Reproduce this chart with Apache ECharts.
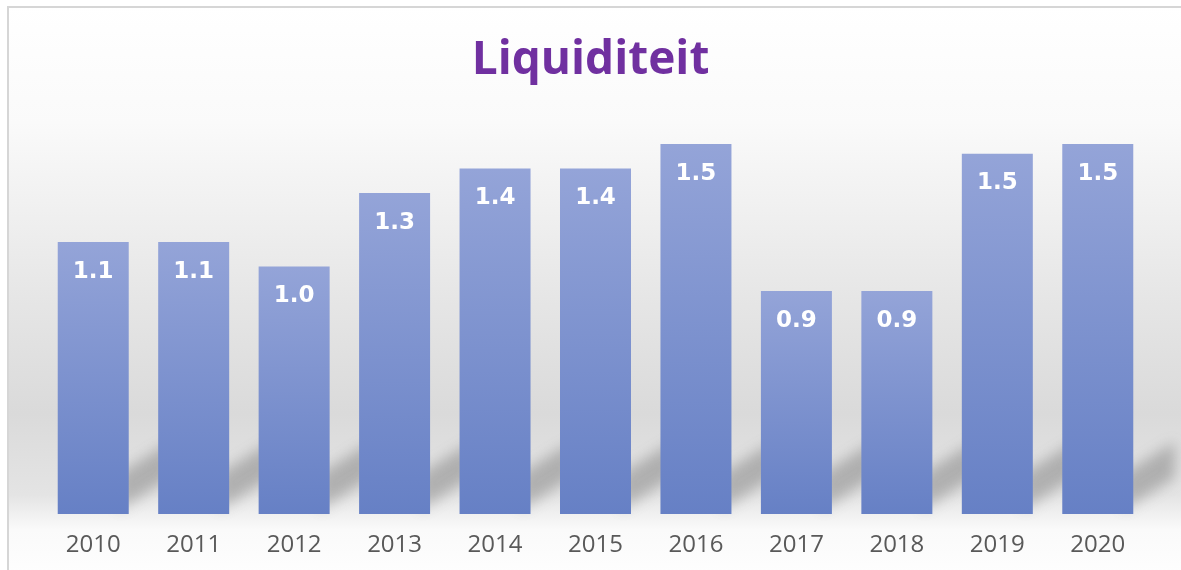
<!DOCTYPE html>
<html>
<head>
<meta charset="utf-8">
<script src="https://cdn.jsdelivr.net/npm/echarts@6/dist/echarts.min.js"></script>
<style>
  html, body { margin: 0; padding: 0; background: #fff; }
  #chart { width: 1181px; height: 570px; }
</style>
</head>
<body>
<div id="chart"></div>
<script>
'use strict';

const years = ['2010', '2011', '2012', '2013', '2014', '2015', '2016', '2017', '2018', '2019', '2020'];
const liquidity = [1.11, 1.11, 1.01, 1.31, 1.41, 1.41, 1.51, 0.91, 0.91, 1.47, 1.51];

const myChart = echarts.init(document.getElementById('chart'));

// blurred diagonal streak to the right of every bar, like the floor shadow
// (shape is drawn off to the left, only its blurred shadow lands in place)
const OFF = 3000;
const renderShadow = (params, api) => {
  const base = api.coord([api.value(0), 0]);
  const size = api.size([1, 0]);
  const xr = base[0] + size[0] * 0.35 - OFF;
  const y = base[1];
  return {
    type: 'polygon',
    shape: {
      points: [
        [xr - 10, y - 4],
        [xr - 10, y - 40],
        [xr + 42, y - 72],
        [xr + 42, y - 36],
      ],
    },
    style: {
      fill: '#000',
      shadowBlur: 14,
      shadowOffsetX: OFF,
      shadowColor: 'rgba(105,105,105,0.42)',
    },
  };
};

const option = {
  animation: false,
  graphic: [{
    type: 'rect',
    z: -10,
    shape: { x: 8, y: 7, width: 1190, height: 580 },
    style: {
      stroke: '#d6d6d6',
      lineWidth: 2,
      fill: new echarts.graphic.LinearGradient(0, 0, 0, 1, [
        { offset: 0, color: '#ffffff' },
        { offset: 0.2, color: '#fafafa' },
        { offset: 0.5, color: '#e6e6e6' },
        { offset: 0.7, color: '#dadada' },
        { offset: 0.84, color: '#e4e4e4' },
        { offset: 0.9, color: '#fafafa' },
        { offset: 1, color: '#ffffff' },
      ]),
    },
  }],
  title: {
    text: 'Liquiditeit',
    left: 'center',
    top: 33,
    textStyle: {
      color: '#7030a0',
      fontFamily: 'Open Sans',
      fontWeight: 'bold',
      fontSize: 46,
    },
  },
  grid: {
    left: 43,
    right: 33,
    top: 122,
    bottom: 56,
  },
  xAxis: {
    type: 'category',
    data: years,
    axisLine: { show: false },
    axisTick: { show: false },
    axisLabel: {
      color: '#595959',
      fontFamily: 'Open Sans',
      fontSize: 24,
      margin: 19,
    },
  },
  yAxis: {
    type: 'value',
    min: 0,
    max: 1.6,
    show: false,
    splitLine: { show: false },
  },
  series: [
    {
      type: 'custom',
      renderItem: renderShadow,
      data: liquidity.map((v, i) => [i, v]),
      z: 1,
      silent: true,
    },
    {
      type: 'bar',
      data: liquidity,
      barWidth: 71,
      z: 2,
      itemStyle: {
        color: new echarts.graphic.LinearGradient(0, 0, 0, 1, [
          { offset: 0, color: '#94a4d8' },
          { offset: 1, color: '#6680c5' },
        ]),
      },
      label: {
        show: true,
        position: 'insideTop',
        distance: 18,
        color: '#ffffff',
        fontFamily: 'DejaVu Sans',
        fontWeight: 'bold',
        fontSize: 23,
        formatter: (p) => p.value.toFixed(1),
      },
    },
  ],
};

myChart.setOption(option);
</script>
</body>
</html>
